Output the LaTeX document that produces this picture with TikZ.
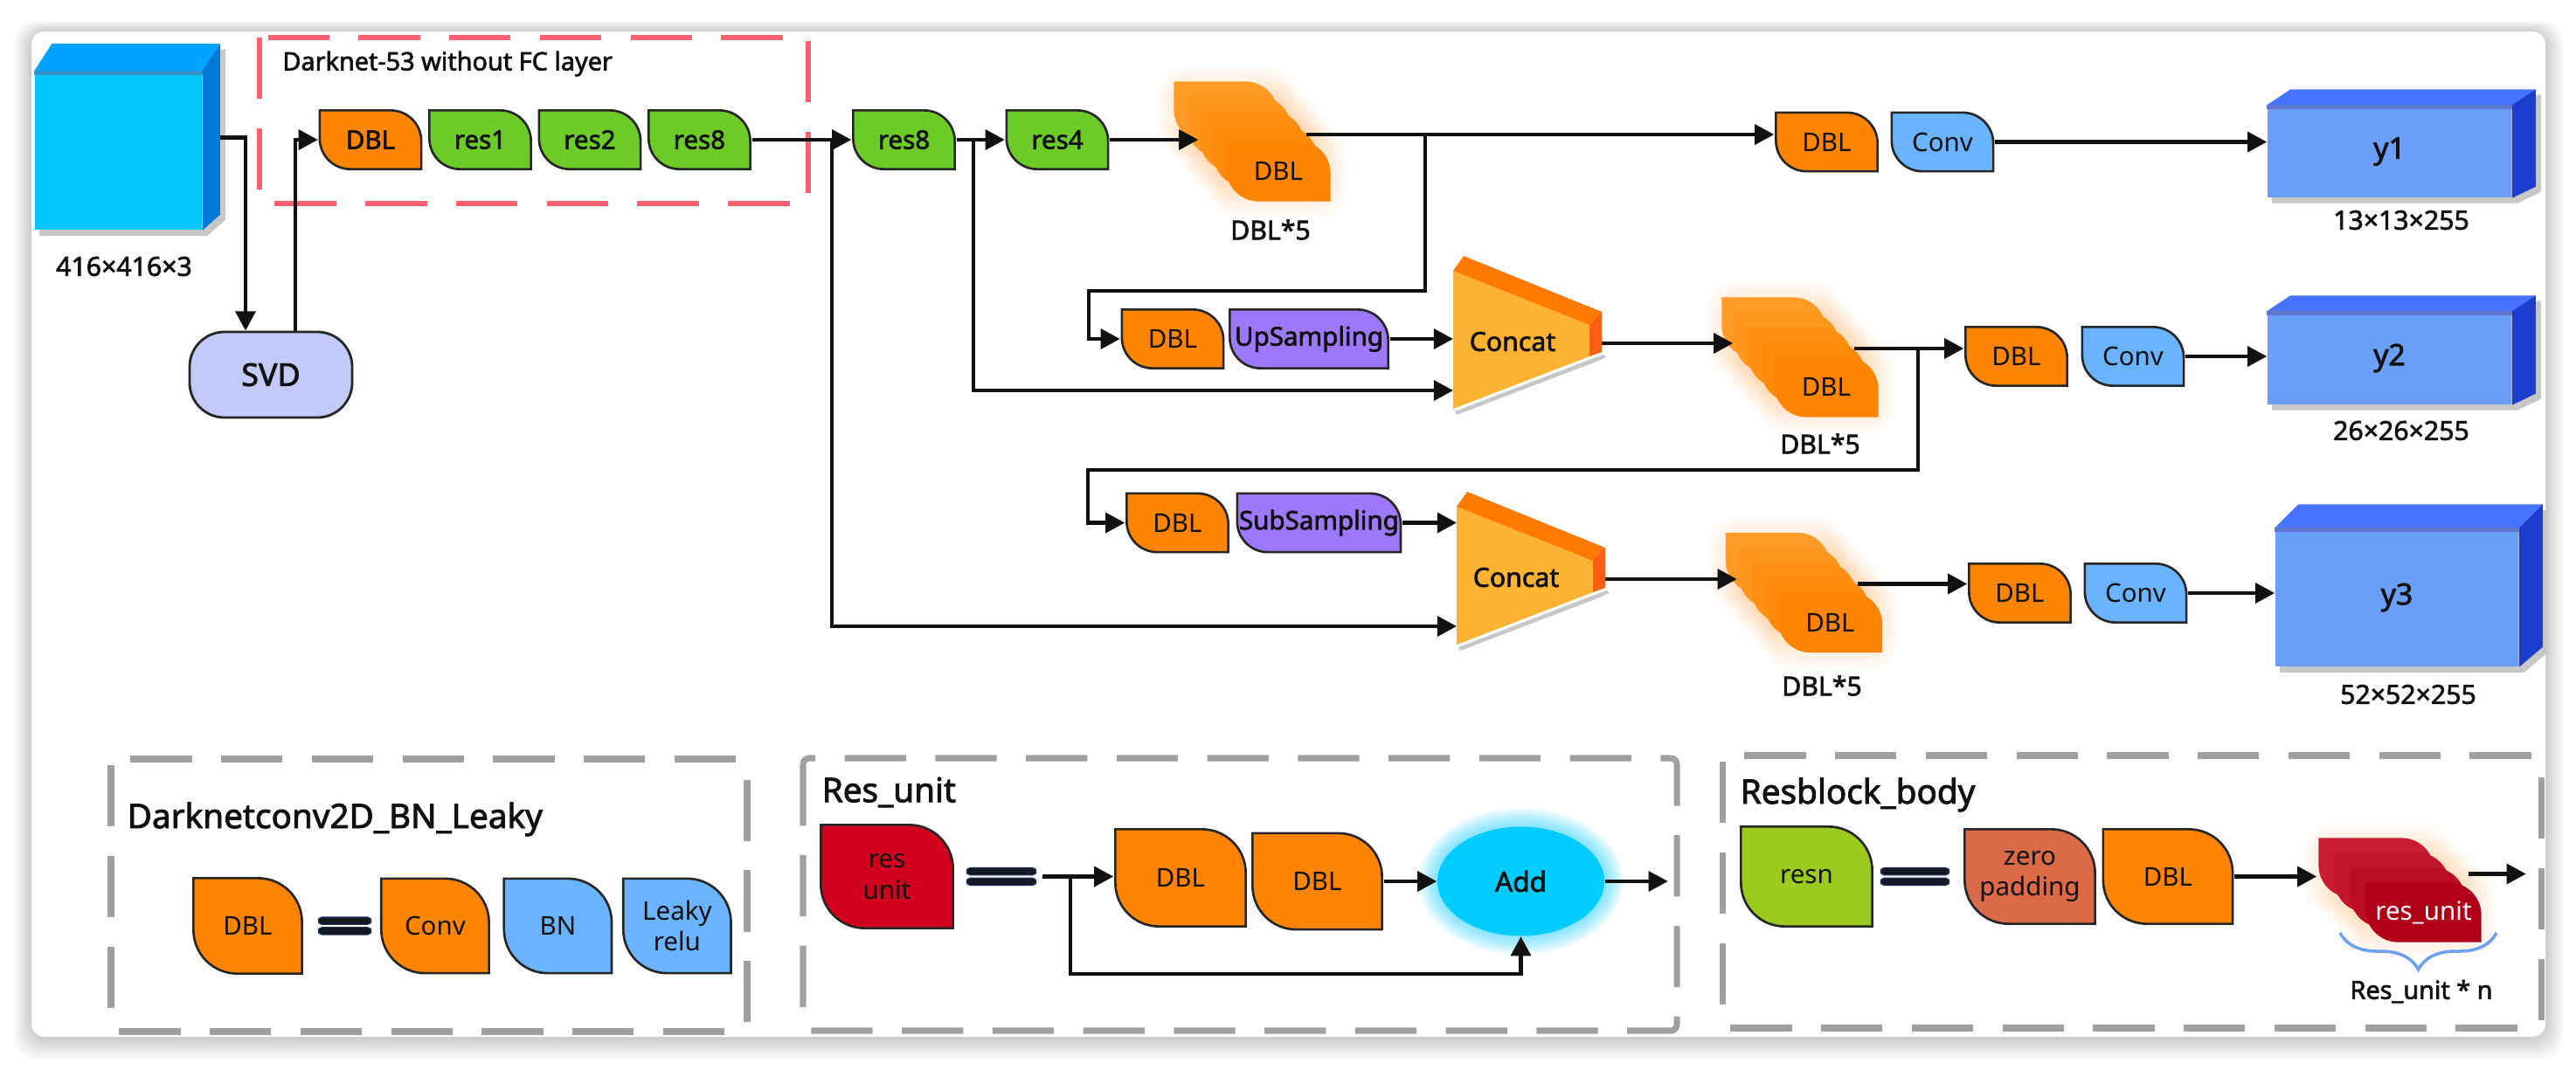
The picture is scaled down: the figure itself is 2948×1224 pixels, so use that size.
\documentclass[tikz,border=0pt]{standalone}
\usepackage{fontspec}
\setmainfont{Noto Sans}[AutoFakeBold=2.2]
\usetikzlibrary{arrows.meta,calc,positioning,backgrounds,shapes.geometric,decorations.pathreplacing}
\definecolor{dblorange}{HTML}{FF8500}
\definecolor{orangepale}{HTML}{FFB14D}
\definecolor{resgreen}{HTML}{6DCB28}
\definecolor{convblue}{HTML}{6AB4FF}
\definecolor{samplepurple}{HTML}{9E78FA}
\definecolor{svdlav}{HTML}{C2CAFA}
\definecolor{incyan}{HTML}{00C8FF}
\definecolor{incyantop}{HTML}{00A2FF}
\definecolor{incyanside}{HTML}{0078D8}
\definecolor{yfront}{HTML}{6A9EF7}
\definecolor{ytop}{HTML}{4673FF}
\definecolor{yside}{HTML}{1B3ECF}
\definecolor{catfront}{HTML}{FDB232}
\definecolor{cattop}{HTML}{FF7A00}
\definecolor{catside}{HTML}{FF5F14}
\definecolor{framered}{HTML}{FF5F6E}
\definecolor{framegray}{HTML}{A0A0A0}
\definecolor{resred}{HTML}{D2001E}
\definecolor{resngreen}{HTML}{9ACB1E}
\definecolor{padorange}{HTML}{DB6A48}
\definecolor{addcyan}{HTML}{00CCFF}
\definecolor{rudark}{HTML}{B00018}
\definecolor{rulight}{HTML}{DC3445}
\definecolor{bracecol}{HTML}{70A0F0}
\definecolor{eqdark}{HTML}{141820}
\definecolor{eqnavy}{HTML}{1C2A55}
\definecolor{inktext}{HTML}{111111}
\pgfdeclarelayer{base}
\pgfsetlayers{base,background,main}
\tikzset{
  conn/.style={-{Triangle[length=6.3pt,width=6.5pt]},line width=1.15pt,draw=inktext},
  leafpath/.style n args={3}{rectangle,inner sep=1pt,align=center,text=inktext,
    path picture={
      \coordinate (lfa) at ([shift={(.4pt,-.4pt)}]path picture bounding box.north west);
      \coordinate (lfb) at ([shift={(-.4pt,.4pt)}]path picture bounding box.south east);
      \path[fill=#1,draw=#2,line width=.75pt]
        (lfa) -- ($(lfb|-lfa)+(-#3,0)$) arc[start angle=90,end angle=0,radius=#3]
        -- (lfb) -- ($(lfa|-lfb)+(#3,0)$) arc[start angle=270,end angle=180,radius=#3] -- cycle;}},
  blk/.style={leafpath={#1}{black!85}{0.35cm},minimum width=1.19cm,minimum height=0.70cm,font=\fontsize{8.4}{10}\selectfont},
  blkbold/.style={blk=#1,font=\bfseries\fontsize{8.4}{10}\selectfont},
  bigblk/.style={leafpath={#1}{black!85}{0.5cm},minimum width=1.26cm,minimum height=1.11cm,font=\fontsize{8.4}{10}\selectfont},
  stackleaf/.style={leafpath={#1}{none}{0.37cm},minimum width=1.22cm,minimum height=0.72cm,font=\fontsize{8.4}{10}\selectfont},
  cubefront/.style={rectangle,fill=#1,inner sep=0pt,text=inktext},
  svdnode/.style={rectangle,rounded corners=0.4cm,draw=black!85,line width=.8pt,fill=svdlav,minimum width=1.86cm,minimum height=0.98cm,font=\bfseries\fontsize{10.2}{12}\selectfont,text=inktext},
  addnode/.style={ellipse,fill=addcyan,minimum width=1.91cm,minimum height=1.25cm,inner sep=0pt,font=\bfseries\fontsize{9}{11}\selectfont,text=inktext},
  eqsign/.style={rectangle,inner sep=0pt,minimum height=0.22cm,
    path picture={
      \filldraw[fill=eqdark,draw=eqnavy,line width=.4pt,rounded corners=1.2pt]
        ([shift={(.3pt,-.3pt)}]path picture bounding box.north west) rectangle ([shift={(-.3pt,.5pt)}]path picture bounding box.east);
      \filldraw[fill=eqdark,draw=eqnavy,line width=.4pt,rounded corners=1.2pt]
        ([shift={(.3pt,-.5pt)}]path picture bounding box.west) rectangle ([shift={(-.3pt,.3pt)}]path picture bounding box.south east);}},
  lbl/.style={font=\bfseries\fontsize{8.6}{10}\selectfont,text=inktext,inner sep=1pt},
  titlefont/.style={font=\bfseries\fontsize{11}{13}\selectfont,text=inktext,inner sep=0pt},
  redframe/.style={draw=framered,line width=1.9pt,dash pattern=on 20pt off 9.5pt},
  grayframe/.style={draw=framegray,line width=2pt,dash pattern=on 20pt off 9.5pt,rounded corners=2pt},
  bracestyle/.style={decorate,decoration={brace,mirror,amplitude=0.42cm},draw=bracecol,line width=1pt}
}
\begin{document}
\begin{tikzpicture}[x=0.01cm,y=-0.01cm]
  \useasboundingbox (0,0) rectangle (2948,1224);
  \begin{pgfonlayer}{base}
    \fill[white] (0,0) rectangle (2948,1224);
    \foreach \k in {1,...,10}
      \fill[black,opacity=0.02,rounded corners=0.25cm] (36-2*\k,36-1.2*\k) rectangle (2913+2*\k,1187+2.6*\k);
    \fill[white,rounded corners=0.15cm] (36,36) rectangle (2913,1187);
  \end{pgfonlayer}
  \draw[redframe] (297,43) rectangle (925,233);
  \draw[grayframe] (127,869) rectangle (855,1181);
  \draw[grayframe] (919,868) rectangle (1919,1180);
  \draw[grayframe] (1971,865) rectangle (2908,1177);

  % backbone
  \node[cubefront=incyan,minimum width=1.91cm,minimum height=1.81cm] (inp) at (135.5,172.5) {};
  \node[lbl] (inpDim) at (142,305) {416×416×3};
  \node[svdnode] (svd) at (310,429) {SVD};
  \node[anchor=west,font=\bfseries\fontsize{8.2}{10}\selectfont,text=inktext] (darkT) at (311,73) {Darknet-53 without FC layer};
  \node[blkbold=dblorange] (dbl0) at (424,160) {DBL};
  \node[blkbold=resgreen,right=0.05cm of dbl0] (res1) {res1};
  \node[blkbold=resgreen,right=0.05cm of res1] (res2) {res2};
  \node[blkbold=resgreen,right=0.05cm of res2] (r8a) {res8};
  \node[blkbold=resgreen] (r8b) at (1034.5,160) {res8};
  \node[blkbold=resgreen,right=0.55cm of r8b] (res4) {res4};

  % DBL*5 stacks
  \foreach \s/\x/\y in {dfA/1403/128,dfB/2030/375,dfC/2034.5/644.5}{
    \foreach \i in {0,...,3}{
      \pgfmathtruncatemacro\mx{50+12*\i}
      \node[stackleaf=dblorange!\mx!orangepale] (\s-\i) at (\x+15*\i,\y+17*\i) {};
    }
    \node[stackleaf=dblorange] (\s-4) at (\x+60,\y+68) {DBL};
    \begin{pgfonlayer}{background}
      \foreach \i in {0,...,4}
        \foreach \g in {5,10,15}
          \fill[dblorange,opacity=0.035,rounded corners=0.3cm] ($(\s-\i.north west)+(-\g,-\g)$) rectangle ($(\s-\i.south east)+(\g,\g)$);
    \end{pgfonlayer}
  }
  \node[lbl] (dfAcap) at (1454,263) {DBL*5};
  \node[lbl] (dfBcap) at (2083,508) {DBL*5};
  \node[lbl] (dfCcap) at (2085,785) {DBL*5};

  \node[blk=dblorange] (dblB) at (1342,388) {DBL};
  \node[blkbold=samplepurple,minimum width=1.84cm,right=0.03cm of dblB] (upA) {UpSampling};
  \node[blk=dblorange] (dblD) at (1347.5,598.5) {DBL};
  \node[blkbold=samplepurple,minimum width=1.87cm,right=0.06cm of dblD] (subA) {SubSampling};

  \foreach \cx/\cy/\nm in {1663/310/catA,1667/580/catB}{
    \begin{scope}[shift={(\cx,\cy)}]
      \fill[black!22] (2,161) -- (158,101) -- (172,96) -- (175,99) -- (161,105) -- (4,165) -- cycle;
      \fill[catfront] (0,0) -- (156,62) -- (156,98) -- (0,158) -- cycle;
      \fill[cattop] (0,0) -- (12,-17) -- (170,47) -- (156,62) -- cycle;
      \fill[catside] (156,62) -- (170,47) -- (170,93) -- (156,98) -- cycle;
      \node[font=\bfseries\fontsize{8.6}{10}\selectfont,text=inktext] (\nm) at (68,81) {Concat};
      \coordinate (\nm-in) at (0,0);
      \coordinate (\nm-lo) at (0,137);
      \coordinate (\nm-out) at (170,83);
    \end{scope}
  }

  % heads
  \node[blk=dblorange] (dblA) at (2090.5,162.5) {DBL};
  \node[blk=convblue,right=0.12cm of dblA] (convA) {Conv};
  \node[blk=dblorange] (dblC) at (2307.5,408) {DBL};
  \node[blk=convblue,right=0.13cm of dblC] (convB) {Conv};
  \node[blk=dblorange] (dblE) at (2311.5,679) {DBL};
  \node[blk=convblue,right=0.12cm of dblE] (convC) {Conv};
  \node[cubefront=yfront,minimum width=2.79cm,minimum height=1.05cm,font=\bfseries\fontsize{9.6}{11}\selectfont] (yA) at (2734.5,173.5) {y1};
  \node[cubefront=yfront,minimum width=2.79cm,minimum height=1.06cm,font=\bfseries\fontsize{9.6}{11}\selectfont] (yB) at (2734.5,410) {y2};
  \node[cubefront=yfront,minimum width=2.78cm,minimum height=1.58cm,font=\bfseries\fontsize{9.6}{11}\selectfont] (yC) at (2743,684) {y3};
  \node[lbl] (yAdim) at (2748,252) {13×13×255};
  \node[lbl] (yBdim) at (2748,493) {26×26×255};
  \node[lbl] (yCdim) at (2756,795) {52×52×255};
  \foreach \nm/\dx/\dy/\db/\ct/\cs in {inp/20/31/18/incyantop/incyanside,yA/27/18/13/ytop/yside,yB/27/18/13/ytop/yside,yC/27/27/23/ytop/yside}{
    \fill[\ct] (\nm.north west) -- ++(\dx,-\dy) -- ($(\nm.north east)+(\dx,-\dy)$) -- (\nm.north east) -- cycle;
    \fill[\cs] (\nm.north east) -- ++(\dx,-\dy) -- ($(\nm.south east)+(\dx,-\db)$) -- (\nm.south east) -- cycle;
    \fill[\ct!60!gray] (\nm.north west) rectangle ($(\nm.north east)+(0,5)$);
    \begin{pgfonlayer}{background}
      \fill[black!22] ($(\nm.north west)+(6,6)$) -- ($(\nm.north east)+(\dx+6,-\dy+6)$) -- ($(\nm.south east)+(\dx+6,-\db+6)$)
        -- ($(\nm.south east)+(6,6)$) -- ($(\nm.south west)+(6,6)$) -- cycle;
    \end{pgfonlayer}
  }

  \draw[conn] ($(inp.east)+(20,-15)$) -| ([xshift=-0.29cm]svd.north);
  \draw[conn] ([xshift=0.28cm]svd.north) |- (dbl0.west);
  \draw[conn] (r8a.east) -- (r8b.west);
  \draw[conn] (r8b.east) -- (res4.west);
  \draw[conn] (res4.east) -- (res4.east -| dfA-2.west);
  \draw[conn] ([yshift=0.08cm]dfA-2.east) coordinate (outA) -- (outA -| dblA.west);
  \draw[conn] ($(outA)+(136,0)$) |- ++(-385,179) |- (dblB.west);
  \draw[conn] (convA.east) -- (convA.east -| yA.west);
  \draw[conn] (upA.east) -- (upA.east -| catA-in);
  \draw[conn] ($(r8b.east)+(19,0)$) |- (catA-lo);
  \draw[conn] ($(r8a.east)+(91,0)$) |- (catB-lo);
  \draw[conn] (catA-out) -- (catA-out -| dfB-1.west);
  \draw[conn] ([yshift=0.1cm]dfB-2.east) coordinate (outB) -- (outB -| dblC.west);
  \draw[conn] ($(outB)+(73,0)$) |- ++(-950,139) |- (dblD.west);
  \draw[conn] (convB.east) -- (convB.east -| yB.west);
  \draw[conn] (subA.east) -- (subA.east -| catB-in);
  \draw[conn] (catB-out) -- (catB-out -| dfC-1.west);
  \draw[conn] ([yshift=0.1cm]dfC-2.east) coordinate (outC) -- (outC -| dblE.west);
  \draw[conn] (convC.east) -- (convC.east -| yC.west);

  % legend panels
  \node[anchor=west,titlefont] (dcbT) at (145,938) {Darknetconv2D\_BN\_Leaky};
  \node[bigblk=dblorange,minimum width=1.27cm,minimum height=1.12cm] (dblL) at (283.5,1060) {DBL};
  \node[eqsign,minimum width=0.62cm,right=0.15cm of dblL] (eqA) {};
  \node[bigblk=dblorange,right=0.08cm of eqA] (convL) {Conv};
  \node[bigblk=convblue,right=0.13cm of convL] (bnL) {BN};
  \node[bigblk=convblue,right=0.09cm of bnL] (lrL) {Leaky\\relu};

  \node[anchor=west,titlefont] (ruT) at (940,907) {Res\_unit};
  \node[bigblk=resred,minimum width=1.54cm,minimum height=1.21cm] (resU) at (1015,1003.5) {res\\unit};
  \node[eqsign,minimum width=0.81cm,right=0.12cm of resU] (eqB) {};
  \node[bigblk=dblorange,minimum width=1.52cm,minimum height=1.14cm] (dblP) at (1351,1005) {DBL};
  \node[bigblk=dblorange,minimum width=1.51cm,minimum height=1.13cm] (dblQ) at (1507.5,1009) {DBL};
  \node[addnode] (add) at (1740.5,1009) {Add};
  \begin{pgfonlayer}{background}
    \foreach \g in {1,...,6}
      \fill[addcyan,opacity=0.09] (add.center) ellipse [x radius=0.955cm+\g*0.035cm,y radius=0.625cm+\g*0.035cm];
  \end{pgfonlayer}
  \draw[conn] ([xshift=0.06cm]eqB.east) coordinate (ruIn) -- (ruIn -| dblP.west);
  \draw[conn] ($(ruIn)+(32,0)$) |- ($(add.south)+(0,43)$) -- (add.south);
  \draw[conn] (dblQ.east) -- (add.west);
  \draw[conn] (add.east) -- ++(72,0) coordinate (addOut);

  \node[anchor=west,titlefont] (rbT) at (1991,910) {Resblock\_body};
  \node[bigblk=resngreen,minimum width=1.53cm,minimum height=1.17cm] (resn) at (2067.5,1003.5) {resn};
  \node[eqsign,minimum width=0.80cm,right=0.06cm of resn] (eqC) {};
  \node[bigblk=padorange,minimum width=1.52cm,minimum height=1.11cm,right=0.14cm of eqC] (zpad) {zero\\padding};
  \node[bigblk=dblorange,minimum width=1.51cm,minimum height=1.11cm,right=0.05cm of zpad] (dblR) {DBL};
  \foreach \i in {0,1,2}{
    \pgfmathtruncatemacro\mx{45+15*\i}
    \node[stackleaf=rudark!\mx!rulight,minimum width=1.35cm,minimum height=0.71cm] (ruS-\i) at (2719.5+18*\i,993.5+17*\i) {};
  }
  \node[stackleaf=rudark,minimum width=1.35cm,minimum height=0.71cm,text=white] (ruS-3) at (2773.5,1044.5) {res\_unit};
  \begin{pgfonlayer}{background}
    \foreach \i in {0,...,3}
      \foreach \g in {5,10,15}
        \fill[dblorange,opacity=0.03,rounded corners=0.3cm] ($(ruS-\i.north west)+(-\g,-\g)$) rectangle ($(ruS-\i.south east)+(\g,\g)$);
  \end{pgfonlayer}
  \draw[conn] (dblR.east) -- (dblR.east -| ruS-0.west);
  \draw[conn] ($(ruS-1.east)+(19,-10)$) -- ++(66,0) coordinate (ruOut);
  \draw[bracestyle] (2678,1068) -- (2857,1068);
  \node[font=\bfseries\fontsize{8.2}{10}\selectfont,text=inktext] (ruN) at (2771,1135) {Res\_unit * n};
\end{tikzpicture}
\end{document}
